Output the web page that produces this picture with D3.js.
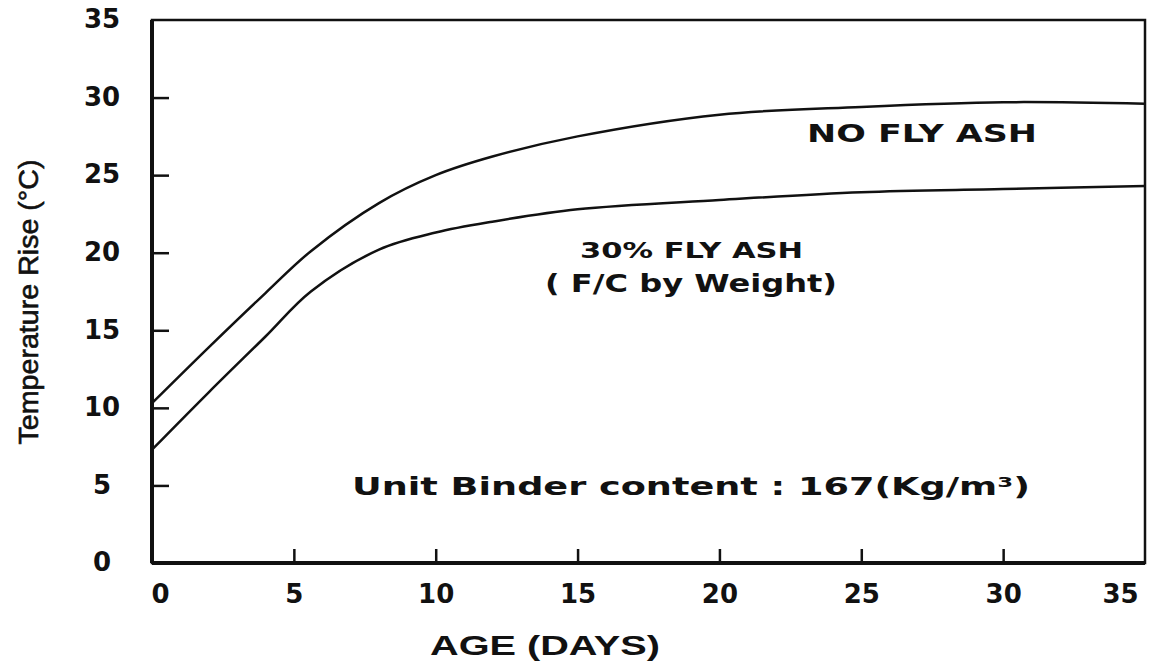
<!DOCTYPE html>
<html>
<head>
<meta charset="utf-8">
<script src="https://cdn.jsdelivr.net/npm/d3@7"></script>
<style>
  body { margin: 0; background: #fff; }
  .tick text { font-family: "DejaVu Sans", sans-serif; font-weight: bold; font-size: 26px; fill: #111; }
  .note { font-family: "DejaVu Sans", sans-serif; font-weight: bold; fill: #111; }
</style>
</head>
<body>
<div id="chart"></div>
<script>
// values
var days = [0, 2, 4, 5.6, 8, 10, 12, 15, 20, 25, 30, 35];
var noFlyAsh = [10.3, 13.9, 17.4, 20.1, 23.2, 25.0, 26.2, 27.5, 28.9, 29.4, 29.7, 29.6];
var flyAsh30 = [7.3, 11.0, 14.6, 17.5, 20.2, 21.3, 22.0, 22.8, 23.4, 23.9, 24.1, 24.3];
var xTicks = [0, 5, 10, 15, 20, 25, 30, 35];
var yTicks = [0, 5, 10, 15, 20, 25, 30, 35];

var width = 1151, height = 661;
var mLeft = 152, mRight = 1145, mTop = 20, mBottom = 563;

var svg = d3.select("#chart")
	.append("svg")
	.attr("width", width)
	.attr("height", height);

var x = d3.scaleLinear().domain([0, 35]).range([mLeft, mRight]);
var y = d3.scaleLinear().domain([0, 35]).range([mBottom, mTop]);

// frame
svg.append("rect")
	.attr("x", mLeft).attr("y", mTop)
	.attr("width", mRight - mLeft).attr("height", mBottom - mTop)
	.attr("fill", "none").attr("stroke", "#111").attr("stroke-width", 2.5);

var xAxis = svg.append("g")
	.attr("transform", "translate(0," + mBottom + ")")
	.call(d3.axisBottom(x).tickValues(xTicks).tickSize(-14).tickPadding(22).tickFormat(d3.format("d")));
xAxis.select(".domain").remove();
xAxis.selectAll(".tick line").attr("stroke", "#111").attr("stroke-width", 2.5);
xAxis.selectAll(".tick").filter(function (d) { return d == 0 || d == 35; }).select("line").remove();
xAxis.selectAll(".tick text").attr("dx", function (d) { return d == 0 ? 8 : (d == 35 ? -25 : 0); });

var yAxis = svg.append("g")
	.attr("transform", "translate(" + mLeft + ",0)")
	.call(d3.axisLeft(y).tickValues(yTicks).tickSize(-17).tickFormat(d3.format("d")));
yAxis.select(".domain").remove();
yAxis.selectAll(".tick line").attr("stroke", "#111").attr("stroke-width", 2.5);
yAxis.selectAll(".tick").filter(function (d) { return d == 0 || d == 35; }).select("line").remove();
yAxis.selectAll(".tick text").attr("text-anchor", "middle").attr("x", -50).attr("dy", "0.3em");

// heavier left and bottom axes
svg.append("line").attr("x1", mLeft).attr("x2", mLeft).attr("y1", mTop).attr("y2", mBottom)
	.attr("stroke", "#111").attr("stroke-width", 4);
svg.append("line").attr("x1", mLeft).attr("x2", mRight).attr("y1", mBottom).attr("y2", mBottom)
	.attr("stroke", "#111").attr("stroke-width", 4);

var line = d3.line()
	.x(function (d) { return x(d[0]); })
	.y(function (d) { return y(d[1]); })
	.curve(d3.curveCatmullRom.alpha(0.5));

[noFlyAsh, flyAsh30].forEach(function (s) {
	svg.append("path")
		.datum(days.map(function (d, i) { return [d, s[i]]; }))
		.attr("d", line)
		.attr("fill", "none")
		.attr("stroke", "#111")
		.attr("stroke-width", 2.5);
});

// labels
svg.append("text")
	.attr("transform", "translate(38,302) rotate(-90)")
	.attr("text-anchor", "middle")
	.attr("font-family", "Liberation Sans, Arial, sans-serif")
	.attr("font-size", 27)
	.attr("stroke", "#111").attr("stroke-width", 0.6)
	.attr("textLength", 285).attr("lengthAdjust", "spacingAndGlyphs")
	.attr("fill", "#111")
	.text("Temperature Rise (°C)");

svg.append("text")
	.attr("x", 545).attr("y", 655)
	.attr("text-anchor", "middle")
	.attr("font-family", "Liberation Sans, Arial, sans-serif")
	.attr("font-weight", "bold")
	.attr("font-size", 27)
	.attr("textLength", 230).attr("lengthAdjust", "spacingAndGlyphs")
	.attr("fill", "#111")
	.text("AGE (DAYS)");

var notes = [
	{ t: "NO FLY ASH", x: 807, y: 142, s: 25, w: 230 },
	{ t: "30% FLY ASH", x: 580, y: 258, s: 22, w: 223 },
	{ t: "( F/C by Weight)", x: 545, y: 292, s: 24, w: 292 },
	{ t: "Unit Binder content : 167(Kg/m³)", x: 352, y: 495, s: 25, w: 678 }
];
notes.forEach(function (n) {
	svg.append("text")
		.attr("class", "note")
		.attr("x", n.x).attr("y", n.y)
		.attr("font-size", n.s)
		.attr("textLength", n.w).attr("lengthAdjust", "spacingAndGlyphs")
		.text(n.t);
});
</script>
</body>
</html>
